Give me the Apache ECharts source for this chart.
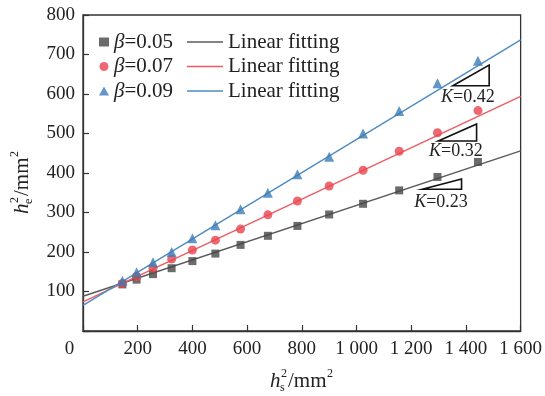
<!DOCTYPE html>
<html>
<head>
<meta charset="utf-8">
<script src="https://cdn.jsdelivr.net/npm/echarts@6/dist/echarts.min.js"></script>
<style>
  html, body { margin: 0; padding: 0; background: #fff; }
  #chart { width: 545px; height: 396px; }
</style>
</head>
<body>
<div id="chart"></div>
<script>
// hs^2 values (mm^2)
const xVals = [144, 196, 256, 324, 400, 484, 576, 676, 784, 900, 1024, 1156, 1296, 1444];
// he^2 values (mm^2)
const beta005 = [118, 130, 144, 159, 177, 196, 218, 241, 266, 295, 322, 356, 390, 428];
const beta007 = [120, 138, 159, 182, 205, 230, 258, 294, 329, 367, 407, 455, 502, 558];
const beta009 = [127, 149, 174, 200, 235, 268, 308, 350, 397, 441, 500, 557, 627, 684];
// fitted line end points
const fit005 = [[0, 88], [1600, 456]];
const fit007 = [[0, 74], [1600, 594]];
const fit009 = [[0, 65], [1600, 737]];
const seriesNames = ['β=0.05', 'β=0.07', 'β=0.09'];
const fitNames = ['fit005', 'fit007', 'fit009'];
// slope annotations: [x1, y1] bottom-left, [x2, y2] top-right, label position, text
const slopeMarks = [
  { a: [1352, 621], b: [1485, 673], lab: [1407, 592], k: '0.42' },
  { a: [1299, 481], b: [1439, 524], lab: [1363, 456], k: '0.32' },
  { a: [1241, 359], b: [1384, 385], lab: [1309, 327], k: '0.23' }
];

const FONT = 'Liberation Serif';
const colors = { dark: '#464646', darkLine: '#5a5a5a', red: '#e9444e', redLine: '#ee5b62', blue: '#3b7cb7', blueLine: '#4d8bc2' };

const pairs = (ys) => xVals.map((x, i) => [x, ys[i]]);
const fmtThousands = (v) => String(v).replace(/\B(?=(\d{3})+(?!\d))/g, ' ');

const chart = echarts.init(document.getElementById('chart'), null, { renderer: 'canvas' });

const option = {
  animation: false,
  backgroundColor: '#fff',
  grid: { left: 83, right: 24, top: 15, bottom: 65, show: true, borderColor: '#333', borderWidth: 1.3 },
  legend: [
    {
      data: seriesNames,
      orient: 'vertical',
      left: 94, top: 26,
      itemWidth: 10, itemHeight: 9, itemGap: 2.5,
      formatter: (n) => '{b|β}{n|=' + n.split('=')[1] + '}',
      textStyle: {
        color: '#222', fontFamily: FONT, fontSize: 21, lineHeight: 22,
        rich: {
          b: { fontFamily: FONT, fontStyle: 'italic', fontSize: 21, color: '#222', lineHeight: 22 },
          n: { fontFamily: FONT, fontSize: 21, color: '#222', lineHeight: 22 }
        }
      }
    },
    {
      data: fitNames.map((n) => ({ name: n, icon: 'rect' })),
      orient: 'vertical',
      left: 182, top: 26,
      itemWidth: 36, itemHeight: 1.5, itemGap: 2.5,
      formatter: () => 'Linear fitting',
      textStyle: { color: '#222', fontFamily: FONT, fontSize: 21, lineHeight: 22 }
    }
  ],
  xAxis: {
    type: 'value', min: 0, max: 1600, interval: 200,
    axisLine: { show: true, lineStyle: { color: '#333', width: 1.3 } },
    axisTick: { show: true, inside: true, length: 6, lineStyle: { color: '#333', width: 1.2 } },
    splitLine: { show: false },
    axisLabel: {
      color: '#222', fontFamily: FONT, fontSize: 19, margin: 9,
      formatter: (v) => v === 0 ? '{z|0}' : fmtThousands(v),
      rich: { z: { fontFamily: FONT, fontSize: 19, color: '#222', padding: [0, 27, 0, 0] } }
    }
  },
  yAxis: {
    type: 'value', min: 0, max: 800, interval: 100,
    axisLine: { show: true, lineStyle: { color: '#333', width: 1.3 } },
    axisTick: { show: true, inside: true, length: 6, lineStyle: { color: '#333', width: 1.2 } },
    splitLine: { show: false },
    axisLabel: {
      color: '#222', fontFamily: FONT, fontSize: 19, margin: 8,
      formatter: (v) => v === 0 ? '' : String(v)
    }
  },
  series: [
    { name: fitNames[0], type: 'line', data: fit005, symbol: 'none', z: 1, color: colors.darkLine, lineStyle: { color: colors.darkLine, width: 1.4 } },
    { name: fitNames[1], type: 'line', data: fit007, symbol: 'none', z: 1, color: colors.redLine, lineStyle: { color: colors.redLine, width: 1.4 } },
    { name: fitNames[2], type: 'line', data: fit009, symbol: 'none', z: 1, color: colors.blueLine, lineStyle: { color: colors.blueLine, width: 1.4 } },
    { name: seriesNames[0], type: 'scatter', data: pairs(beta005), symbol: 'rect', symbolSize: 8, z: 3, itemStyle: { color: colors.dark } },
    { name: seriesNames[1], type: 'scatter', data: pairs(beta007), symbol: 'circle', symbolSize: 9, z: 3, itemStyle: { color: colors.red } },
    { name: seriesNames[2], type: 'scatter', data: pairs(beta009), symbol: 'triangle', symbolSize: 10, z: 3, itemStyle: { color: colors.blue } }
  ]
};
chart.setOption(option);

// axis titles: h with stacked sub/superscript
function axisTitle(sub, cx, cy, rotation) {
  const base = { fill: '#222', fontFamily: FONT, verticalAlign: 'middle', align: 'left' };
  return {
    type: 'group', x: cx, y: cy, rotation: rotation, silent: true,
    children: [
      { type: 'text', x: -31, y: 0, style: Object.assign({}, base, { text: 'h', fontSize: 21, fontStyle: 'italic' }) },
      { type: 'text', x: -20, y: -7, style: Object.assign({}, base, { text: '2', fontSize: 12 }) },
      { type: 'text', x: -21, y: 7, style: Object.assign({}, base, { text: sub, fontSize: 12 }) },
      { type: 'text', x: -13, y: 0, style: Object.assign({}, base, { text: '/mm', fontSize: 21 }) },
      { type: 'text', x: 26, y: -7, style: Object.assign({}, base, { text: '2', fontSize: 12 }) }
    ]
  };
}

const graphics = [axisTitle('s', 301, 381, 0), axisTitle('e', 22, 183, Math.PI / 2)];
slopeMarks.forEach((m) => {
  const p1 = chart.convertToPixel({ gridIndex: 0 }, m.a);
  const p2 = chart.convertToPixel({ gridIndex: 0 }, m.b);
  const pl = chart.convertToPixel({ gridIndex: 0 }, m.lab);
  graphics.push({
    type: 'polygon', silent: true,
    shape: { points: [[p1[0], p1[1]], [p2[0], p1[1]], [p2[0], p2[1]]] },
    style: { fill: 'none', stroke: '#111', lineWidth: 1.6 }
  });
  graphics.push({
    type: 'text', silent: true, x: pl[0], y: pl[1],
    style: {
      text: '{k|K}{t|=' + m.k + '}', align: 'center', verticalAlign: 'middle',
      rich: {
        k: { fontFamily: FONT, fontStyle: 'italic', fontSize: 18, fill: '#222' },
        t: { fontFamily: FONT, fontSize: 18, fill: '#222' }
      }
    }
  });
});
chart.setOption({ graphic: graphics });
</script>
</body>
</html>
